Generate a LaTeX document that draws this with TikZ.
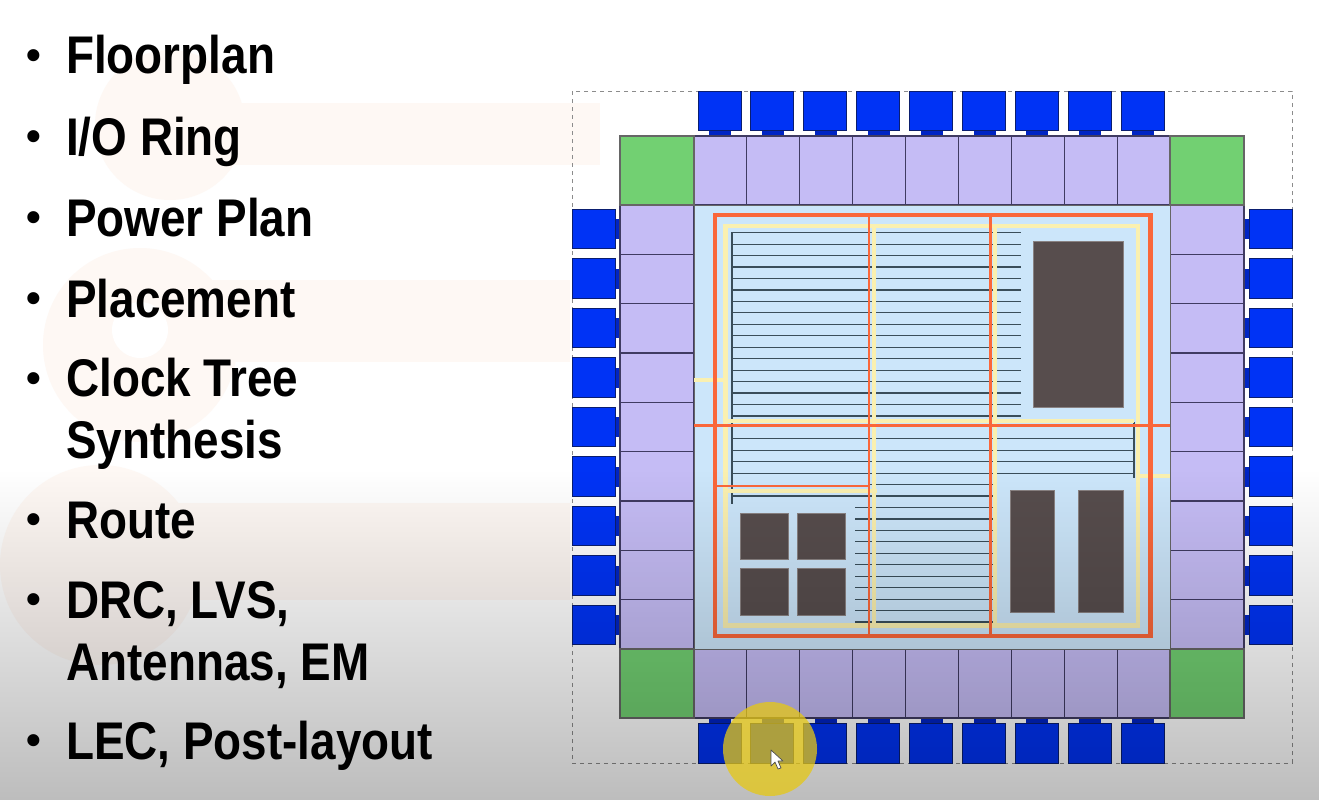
\documentclass[tikz,border=0pt]{standalone}
\usepackage{fontspec}
\usepackage{xcolor}
\usepackage{tikz}
\usetikzlibrary{fadings}
\newfontfamily\slidefont[FakeStretch=0.865]{Liberation Sans}
\newfontfamily\dotfont{Liberation Sans}
\definecolor{padblue}{HTML}{0033F5}
\definecolor{padline}{HTML}{0A1E70}
\definecolor{tabblue}{HTML}{0024C4}
\definecolor{cellpurple}{HTML}{C5BCF5}
\definecolor{cellline}{HTML}{403B62}
\definecolor{cornergreen}{HTML}{72D072}
\definecolor{coreblue}{HTML}{CCE6FA}
\definecolor{ringred}{HTML}{FA673A}
\definecolor{ringyellow}{HTML}{FAF0B0}
\definecolor{rowgrey}{HTML}{3A4E5A}
\definecolor{macrobrown}{HTML}{574D4D}
\definecolor{markpeach}{HTML}{FEF8F4}
\definecolor{hiyellow}{HTML}{E6C814}
\tikzfading[name=slidefade, top color=transparent!100, bottom color=transparent!74]

\begin{document}
\begin{tikzpicture}[
        x=1pt, y=-1pt,
        steptext/.style={font=\slidefont\bfseries\fontsize{53}{61.5}\selectfont, anchor=base west, inner sep=0pt, align=left},
        dot/.style={font=\dotfont\bfseries\fontsize{42}{42}\selectfont, anchor=base, inner sep=0pt},
        iocell/.style={draw=cellline, line width=1.1pt, fill=cellpurple},
        corner/.style={draw=black!60, line width=1.1pt, fill=cornergreen},
        pad/.style={draw=padline, line width=.9pt, fill=padblue},
        padtab/.style={fill=tabblue},
        padgap/.style={fill=white},
        macro/.style={draw=macrobrown!70, line width=.5pt, fill=macrobrown},
        rowline/.style={draw=rowgrey, line width=1.2pt},
        redring/.style={draw=ringred, line width=4.5pt},
        yellowring/.style={draw=ringyellow, line width=4.5pt},
        redstrap/.style={draw=ringred, line width=2.6pt},
        yellowstrap/.style={draw=ringyellow, line width=4pt}
        ]
        \useasboundingbox (0,0) rectangle (1321,800);

        % Background marks
        \fill[white] (0,0) rectangle (1321,800);
        \fill[markpeach] (170,125) circle (75);
        \fill[markpeach] (230,103) rectangle (600,165);
        \fill[markpeach] (140,345) circle (97);
        \fill[markpeach] (200,280) rectangle (570,362);
        \fill[white] (140,330) circle (28);
        \fill[markpeach] (100,565) circle (100);
        \fill[markpeach] (150,503) rectangle (570,600);

        \draw[black!45, line width=.8pt, dash pattern=on 4pt off 4pt] (572,91) rectangle (1292,763);

        % Pads
        \foreach \i in {0,...,8} {
            \fill[padgap] ({698+\i*52.9},130) rectangle +(43,5);
            \fill[padtab] ({709+\i*52.9},130) rectangle +(22,6);
            \draw[pad] ({698+\i*52.9},91) rectangle +(43,39);
            \fill[padgap] ({698+\i*52.9},718) rectangle +(43,5);
            \fill[padtab] ({709+\i*52.9},718) rectangle +(22,6);
            \draw[pad] ({698+\i*52.9},723) rectangle +(43,40);
            \fill[padgap] (615,{209+\i*49.5}) rectangle +(5,39.5);
            \fill[padtab] (614,{219+\i*49.5}) rectangle +(6,20);
            \draw[pad] (572,{209+\i*49.5}) rectangle +(43,39.5);
            \fill[padgap] (1244,{209+\i*49.5}) rectangle +(5,39.5);
            \fill[padtab] (1244,{219+\i*49.5}) rectangle +(6,20);
            \draw[pad] (1249,{209+\i*49.5}) rectangle +(43,39.5);
        }

        % I/O cells
        \foreach \i in {0,...,8} {
            \draw[iocell] ({694+\i*52.9},136) rectangle +(52.9,69);
            \draw[iocell] ({694+\i*52.9},649) rectangle +(52.9,69);
            \draw[iocell] (620,{205+\i*49.33}) rectangle +(74,49.33);
            \draw[iocell] (1170,{205+\i*49.33}) rectangle +(74,49.33);
        }
        \draw[corner] (620,136) rectangle (694,205);
        \draw[corner] (1170,136) rectangle (1244,205);
        \draw[corner] (620,649) rectangle (694,718);
        \draw[corner] (1170,649) rectangle (1244,718);

        % Core
        \draw[black!60, line width=1pt, fill=coreblue] (694,205) rectangle (1170,649);

        % Rows
        \foreach \k in {0,...,16} \draw[rowline] (732,{232.7+\k*11.45}) -- (1021,{232.7+\k*11.45});
        \foreach \k in {18,...,21} \draw[rowline] (732,{232.7+\k*11.45}) -- (1134,{232.7+\k*11.45});
        \draw[rowline] (869,{232.7+22*11.45}) -- (994,{232.7+22*11.45});
        \draw[rowline] (732,{232.7+23*11.45}) -- (994,{232.7+23*11.45});
        \foreach \k in {24,...,34} \draw[rowline] (855,{232.7+\k*11.45}) -- (994,{232.7+\k*11.45});
        \draw[rowline] (732,232) -- (732,504);
        \draw[rowline] (1134,422) -- (1134,478);

        % Power rings and straps
        \draw[yellowring] (725.5,226) rectangle (1138,625.5);
        \draw[yellowstrap] (874,226) -- (874,625.5);
        \draw[yellowstrap] (995,226) -- (995,625.5);
        \draw[yellowstrap] (725.5,421) -- (1134,421);
        \draw[yellowstrap] (725.5,491) -- (877,491);
        \draw[yellowstrap] (694,380) -- (725.5,380);
        \draw[yellowstrap] (1138,476) -- (1170,476);
        \draw[redring] (715,215) rectangle (1150.5,636);
        \draw[redstrap] (869,215) -- (869,636);
        \draw[redstrap] (990.5,215) -- (990.5,636);
        \draw[redstrap, line width=3pt] (694,425.5) -- (1170,425.5);
        \draw[redstrap] (715,486) -- (869,486);

        % Macros
        \draw[macro] (1033,241) rectangle (1123,407);
        \draw[macro] (1010,490) rectangle (1054,612);
        \draw[macro] (1078,490) rectangle (1123,612);
        \draw[macro] (740,513) rectangle (788,559);
        \draw[macro] (797,513) rectangle (845,559);
        \draw[macro] (740,568) rectangle (788,615);
        \draw[macro] (797,568) rectangle (845,615);

        % Slide shading
        \fill[black, path fading=slidefade] (0,470) rectangle (1321,800);

        % Mouse pointer
        \fill[hiyellow, opacity=.75] (770,749) circle (47);
        \draw[black!70, line width=.7pt, fill=white, line join=round] (771,750) -- (771,766) -- (775,762) -- (778,769) -- (781,768) -- (778,761) -- (783,761) -- cycle;

        % Steps
        \node (floorplan) [steptext] at (66,74) {Floorplan};
        \node (ioring) [steptext] at (66,155) {I/O Ring};
        \node (powerplan) [steptext] at (66,236) {Power Plan};
        \node (placement) [steptext] at (66,317) {Placement};
        \node (cts) [steptext] at (66,458) {Clock Tree\\Synthesis};
        \node (route) [steptext] at (66,538) {Route};
        \node (drc) [steptext] at (66,680) {DRC, LVS,\\Antennas, EM};
        \node (lec) [steptext] at (66,759) {LEC, Post-layout};

        \foreach \y/\name in {74/a, 155/b, 236/c, 317/d, 397/e, 538/f, 618/g, 759/h}
            \node (dot\name) [dot] at (33.5,\y-5) {\textbullet};
\end{tikzpicture}
\end{document}
